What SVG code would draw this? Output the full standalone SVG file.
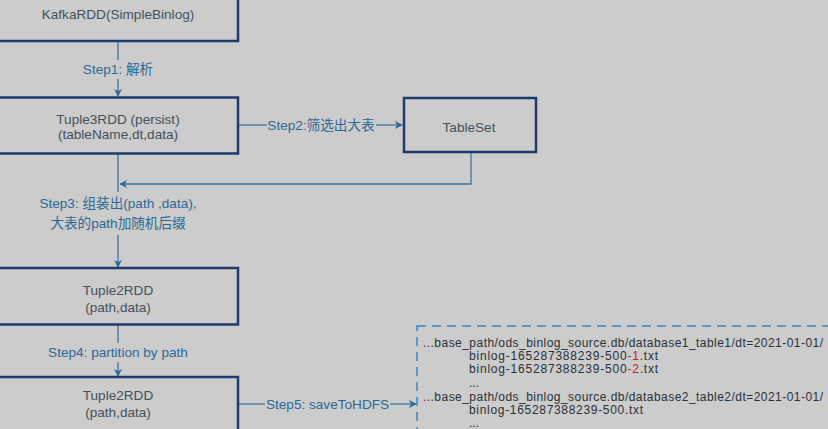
<svg xmlns="http://www.w3.org/2000/svg" width="828" height="429" viewBox="0 0 828 429">
<defs>
<style>
.box{fill:none;stroke:#1f3a6c;stroke-width:2.5}
.bt{font-family:"Liberation Sans",Arial,"Noto Sans CJK SC",sans-serif;font-size:13.6px;fill:#46505c;text-anchor:middle}
.ln{fill:none;stroke:#3a74a0;stroke-width:1.3}
.lb{font-family:"Liberation Sans",Arial,"Noto Sans CJK SC",sans-serif;font-size:13.6px;fill:#2f6895;text-anchor:middle}
.pt{font-family:"Liberation Sans",Arial,sans-serif;font-size:12px;fill:#2a3038}
.red{fill:#c0282a}
</style>
<marker id="ah" viewBox="0 0 10 10" refX="9" refY="5" markerWidth="8" markerHeight="8" markerUnits="userSpaceOnUse" orient="auto">
<path d="M0,0 L10,5 L0,10 L3,5 Z" fill="#2f6895"/>
</marker>
</defs>
<rect width="828" height="429" fill="#cbcccb"/>
<g id="connectors">
<line class="ln" x1="118" y1="41" x2="118" y2="60"/>
<line class="ln" x1="118" y1="79" x2="118" y2="96" marker-end="url(#ah)"/>
<text class="lb" x="118" y="74">Step1: 解析</text>
<line class="ln" x1="238" y1="125" x2="267" y2="125"/>
<line class="ln" x1="376" y1="125" x2="402" y2="125" marker-end="url(#ah)"/>
<text class="lb" x="321" y="130">Step2:筛选出大表</text>
<polyline class="ln" points="471,153 471,184 120,184" marker-end="url(#ah)"/>
<line class="ln" x1="118" y1="154" x2="118" y2="192"/>
<text class="lb" x="118" y="208">Step3: 组装出(path ,data),</text>
<text class="lb" x="118" y="228">大表的path加随机后缀</text>
<line class="ln" x1="118" y1="235" x2="118" y2="267" marker-end="url(#ah)"/>
<line class="ln" x1="118" y1="325" x2="118" y2="343"/>
<text class="lb" x="118" y="357">Step4: partition by path</text>
<line class="ln" x1="118" y1="362" x2="118" y2="376" marker-end="url(#ah)"/>
<line class="ln" x1="239" y1="404" x2="265" y2="404"/>
<line class="ln" x1="390" y1="404" x2="416" y2="404" marker-end="url(#ah)"/>
<text class="lb" x="327.5" y="409">Step5: saveToHDFS</text>
</g>
<g id="kafkaRDD">
<rect class="box" x="-10" y="-20" width="248" height="61"/>
<text class="bt" x="118" y="19">KafkaRDD(SimpleBinlog)</text>
</g>
<g id="tuple3RDD">
<rect class="box" x="-10" y="97.5" width="248" height="56"/>
<text class="bt" x="118" y="124">Tuple3RDD (persist)</text>
<text class="bt" x="118" y="139">(tableName,dt,data)</text>
</g>
<g id="tableSet">
<rect class="box" x="404" y="98" width="132" height="54"/>
<text class="bt" x="469" y="132">TableSet</text>
</g>
<g id="tuple2RDD1">
<rect class="box" x="-10" y="268" width="248" height="56.5"/>
<text class="bt" x="118" y="295">Tuple2RDD</text>
<text class="bt" x="118" y="312">(path,data)</text>
</g>
<g id="tuple2RDD2">
<rect class="box" x="-10" y="377" width="248" height="80"/>
<text class="bt" x="118" y="400">Tuple2RDD</text>
<text class="bt" x="118" y="417">(path,data)</text>
</g>
<g id="hdfsPaths">
<rect x="417" y="326" width="430" height="120" fill="none" stroke="#3a86c0" stroke-width="1.5" stroke-dasharray="9,6"/>
<text class="pt" x="423" y="347" textLength="400" lengthAdjust="spacing">...base_path/ods_binlog_source.db/database1_table1/dt=2021-01-01/</text>
<text class="pt" x="469" y="360" textLength="189" lengthAdjust="spacing">binlog-165287388239-500<tspan class="red">-1</tspan>.txt</text>
<text class="pt" x="469" y="373" textLength="189" lengthAdjust="spacing">binlog-165287388239-500<tspan class="red">-2</tspan>.txt</text>
<text class="pt" x="469" y="387">...</text>
<text class="pt" x="423" y="401" textLength="400" lengthAdjust="spacing">...base_path/ods_binlog_source.db/database2_table2/dt=2021-01-01/</text>
<text class="pt" x="469" y="414" textLength="174" lengthAdjust="spacing">binlog-165287388239-500.txt</text>
<text class="pt" x="469" y="427">...</text>
</g>
</svg>
